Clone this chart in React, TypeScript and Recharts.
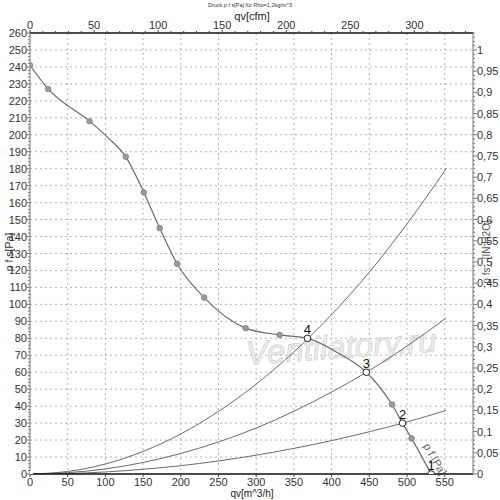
import React from 'react';
import { ComposedChart, Line, Scatter, XAxis, YAxis, CartesianGrid, Customized } from 'recharts';

// fan curve p f [Pa] over qv [m^3/h]
const fanQ = [0, 24, 79, 103, 127, 151, 172, 195, 231, 286, 331, 368, 410, 446, 480, 494, 506, 532];
const fanP = [241, 227, 208, 198.5, 187, 166, 145, 124, 104, 86, 82, 80, 71, 60, 41, 30, 21, 0];

// measured points on the fan curve
const dotQ = [0, 24, 79, 127, 151, 172, 195, 231, 286, 331, 480, 506];
const dotP = [241, 227, 208, 187, 166, 145, 124, 104, 86, 82, 41, 21];

// system curves
const sysQ = [0, 50, 100, 150, 200, 250, 300, 350, 400, 450, 500, 552];
const sys4P = [0, 1.5, 5.9, 13.3, 23.6, 36.9, 53, 72, 94, 119, 147.5, 180];
const sys3P = [0, 0.8, 3, 6.8, 12.1, 18.9, 27.1, 37, 48.3, 61, 75.4, 92];
const sys2P = [0, 0.3, 1.2, 2.8, 4.9, 7.7, 11.1, 15.1, 19.7, 24.9, 30.7, 37.5];

// operating points
const opNames = ['1', '2', '3', '4'];
const opQ = [532, 494, 446, 368];
const opP = [0, 30, 60, 80];

// tick labels
const qTicks = [0, 50, 100, 150, 200, 250, 300, 350, 400, 450, 500, 550];
const cfmTicks = [0, 50, 100, 150, 200, 250, 300];
const paTicks = [0, 10, 20, 30, 40, 50, 60, 70, 80, 90, 100, 110, 120, 130, 140, 150, 160, 170, 180, 190, 200, 210, 220, 230, 240, 250, 260];
const inTicks = [0, 0.05, 0.1, 0.15, 0.2, 0.25, 0.3, 0.35, 0.4, 0.45, 0.5, 0.55, 0.6, 0.65, 0.7, 0.75, 0.8, 0.85, 0.9, 0.95, 1];

const Q_MAX = 587.5;
const CFM_MAX = Q_MAX / 1.699;

const zip = (q: number[], p: number[]) => q.map((v, i) => ({ q: v, p: p[i] }));
const fanData = zip(fanQ, fanP);
const dotData = zip(dotQ, dotP);
const opData = opQ.map((v, i) => ({ q: v, p: opP[i], n: opNames[i] }));

// minor ticks
const paMinor: number[] = [];
for (let i = 0; i <= 130; i++) paMinor.push(i * 2);
const inMinor: number[] = [];
for (let i = 0; i <= 104; i++) inMinor.push(i / 100);
const cfmMinor: number[] = [];
for (let i = 0; i <= 34; i++) cfmMinor.push(i * 10);

const FONT = '"Liberation Sans", Arial, sans-serif';
const LABEL = '#333';
const CURVE = '#6a6a6a';

const fmtIn = (v: number) => String(Math.round(v * 100) / 100).replace('.', ',');
const isMajorIn = (v: number) => inTicks.some((t) => Math.abs(t - v) < 1e-6);

const LeftTick = (props: any) => {
  const { x, y, payload } = props;
  const major = paTicks.includes(payload.value);
  return (
    <g>
      <line x1={x - (major ? 3 : 2)} x2={x} y1={y} y2={y} stroke="#777" />
      {major && (
        <text x={x - 3} y={y} dy={4} textAnchor="end" fontSize={11} fill={LABEL} fontFamily={FONT}>
          {payload.value}
        </text>
      )}
    </g>
  );
};

const RightTick = (props: any) => {
  const { x, y, payload } = props;
  const major = isMajorIn(payload.value);
  return (
    <g>
      <line x1={x} x2={x + (major ? 4 : 2)} y1={y} y2={y} stroke="#777" />
      {major && (
        <text x={x + 4} y={y} dy={4} textAnchor="start" fontSize={11} fill={LABEL} fontFamily={FONT}>
          {fmtIn(payload.value)}
        </text>
      )}
    </g>
  );
};

const BottomTick = (props: any) => {
  const { x, y, payload } = props;
  return (
    <g>
      <line x1={x} x2={x} y1={y} y2={y + 3} stroke="#444" />
      <text x={x} y={y + 12} textAnchor="middle" fontSize={11} fill={LABEL} fontFamily={FONT}>
        {payload.value}
      </text>
    </g>
  );
};

const TopTick = (props: any) => {
  const { x, y, payload } = props;
  const major = cfmTicks.includes(payload.value);
  return (
    <g>
      <line x1={x} x2={x} y1={y} y2={y - (major ? 3 : 2)} stroke="#444" />
      {major && (
        <text x={x} y={y - 4} textAnchor="middle" fontSize={11} fill={LABEL} fontFamily={FONT}>
          {payload.value}
        </text>
      )}
    </g>
  );
};

const MeasuredDot = (props: any) => {
  const { cx, cy } = props;
  return <circle cx={cx} cy={cy} r={2.8} fill="#9a9a9a" stroke="#808080" strokeWidth={0.8} />;
};

const OpPoint = (props: any) => {
  const { cx, cy, payload } = props;
  return (
    <g>
      <circle cx={cx} cy={cy} r={3.3} fill="#fff" stroke="#222" strokeWidth={1} />
      <text x={cx} y={cy - 4} textAnchor="middle" fontSize={13} fill="#111" fontFamily={FONT}>
        {payload.n}
      </text>
    </g>
  );
};

// static texts: title, axis names, watermark, curve name
const Texts = () => (
  <g fontFamily={FONT}>
    <text x={250} y={7} textAnchor="middle" fontSize={5.5} fill="#333">Druck p f s[Pa] für Rho=1,2kg/m^3</text>
    <text x={252} y={20} textAnchor="middle" fontSize={11} fill="#222">qv[cfm]</text>
    <text x={252} y={497} textAnchor="middle" fontSize={10} fill="#222">qv[m^3/h]</text>
    <text transform="translate(13,252) rotate(-90)" textAnchor="middle" fontSize={10.5} fill="#333">p f s[Pa]</text>
    <text transform="translate(490,252) rotate(-90)" textAnchor="middle" fontSize={10} fill="#555">p fs_ [IN H2O]</text>
    <text
      transform="translate(342,358) rotate(-4)"
      textAnchor="middle"
      fontSize={33}
      fontStyle="italic"
      fill="#eeeeee"
      stroke="#d4d4d4"
      strokeWidth={0.8}
    >
      Ventilatory.ru
    </text>
    <text transform="translate(423,446) rotate(60)" fontSize={11} fill="#666">p f [Pa]</text>
  </g>
);

export default function App() {
  return (
    <div style={{ position: 'absolute', left: 0, top: 0, width: 500, height: 500, background: '#fff' }}>
      <ComposedChart width={500} height={500} margin={{ top: 0, right: 0, bottom: 0, left: 0 }}>
        <Customized component={Texts} />
        <CartesianGrid
          xAxisId="m3h"
          yAxisId="pa"
          horizontalValues={paTicks.slice(1, -1)}
          verticalValues={qTicks.slice(1)}
          strokeDasharray="2 3"
          stroke="#b4b4b4"
        />
        <XAxis
          xAxisId="m3h"
          type="number"
          dataKey="q"
          domain={[0, Q_MAX]}
          allowDataOverflow
          ticks={qTicks}
          interval={0}
          height={26}
          tickSize={0}
          tickMargin={0}
          tickLine={false}
          tick={<BottomTick />}
          axisLine={{ stroke: '#111', strokeWidth: 1.6 }}
        />
        <XAxis
          xAxisId="cfm"
          type="number"
          dataKey="q"
          orientation="top"
          domain={[0, CFM_MAX]}
          allowDataOverflow
          ticks={cfmMinor}
          interval={0}
          height={33}
          tickSize={0}
          tickMargin={0}
          tickLine={false}
          tick={<TopTick />}
          axisLine={{ stroke: '#111', strokeWidth: 1.6 }}
        />
        <YAxis
          yAxisId="pa"
          dataKey="p"
          type="number"
          domain={[0, 260]}
          allowDataOverflow
          ticks={paMinor}
          interval={0}
          width={30}
          tickSize={0}
          tickMargin={0}
          tickLine={false}
          tick={<LeftTick />}
          axisLine={{ stroke: '#777' }}
        />
        <YAxis
          yAxisId="inh2o"
          dataKey="p"
          orientation="right"
          type="number"
          domain={[0, 1.04]}
          allowDataOverflow
          ticks={inMinor}
          interval={0}
          width={27}
          tickSize={0}
          tickMargin={0}
          tickLine={false}
          tick={<RightTick />}
          axisLine={{ stroke: '#777' }}
        />
        {/* invisible series so the cfm and inH2O axes get drawn */}
        <Line xAxisId="cfm" yAxisId="inh2o" data={[{ q: 0, p: 0 }]} dataKey="p" stroke="none" dot={false} isAnimationActive={false} />
        <Line xAxisId="m3h" yAxisId="pa" data={zip(sysQ, sys4P)} dataKey="p" type="monotone" stroke={CURVE} strokeWidth={1} dot={false} isAnimationActive={false} />
        <Line xAxisId="m3h" yAxisId="pa" data={zip(sysQ, sys3P)} dataKey="p" type="monotone" stroke={CURVE} strokeWidth={1} dot={false} isAnimationActive={false} />
        <Line xAxisId="m3h" yAxisId="pa" data={zip(sysQ, sys2P)} dataKey="p" type="monotone" stroke={CURVE} strokeWidth={1} dot={false} isAnimationActive={false} />
        <Line xAxisId="m3h" yAxisId="pa" data={fanData} dataKey="p" type="monotone" stroke={CURVE} strokeWidth={1.2} dot={false} isAnimationActive={false} />
        <Scatter xAxisId="m3h" yAxisId="pa" data={dotData} dataKey="p" shape={<MeasuredDot />} isAnimationActive={false} />
        <Scatter xAxisId="m3h" yAxisId="pa" data={opData} dataKey="p" shape={<OpPoint />} isAnimationActive={false} />
      </ComposedChart>
    </div>
  );
}
